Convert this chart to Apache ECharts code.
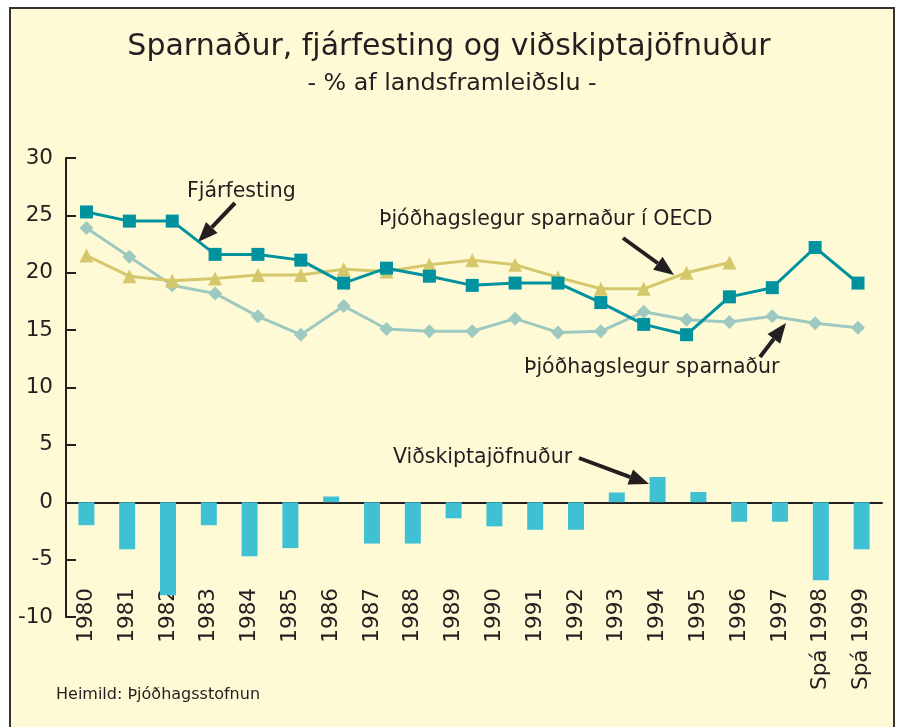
<!DOCTYPE html>
<html>
<head>
<meta charset="utf-8">
<script src="https://cdn.jsdelivr.net/npm/echarts@6/dist/echarts.min.js"></script>
<style>
  html, body { margin: 0; padding: 0; background: #fff; }
  #chart { width: 898px; height: 727px; }
</style>
</head>
<body>
<div id="chart"></div>
<script>
// categories under the bars (20) and the steps of the line series (19)
var years = ['1980', '1981', '1982', '1983', '1984', '1985', '1986', '1987', '1988', '1989',
  '1990', '1991', '1992', '1993', '1994', '1995', '1996', '1997', 'Spá 1998', 'Spá 1999'];
var lineSteps = ['1980', '1981', '1982', '1983', '1984', '1985', '1986', '1987', '1988', '1989',
  '1990', '1991', '1992', '1993', '1994', '1995', '1996', '1997', '1998'];

// % af landsframleiðslu
var vidskiptajofnudur = [-2.0, -4.1, -8.1, -2.0, -4.7, -4.0, 0.5, -3.6, -3.6, -1.4,
  -2.1, -2.4, -2.4, 0.85, 2.2, 0.9, -1.7, -1.7, -6.8, -4.1];
var fjarfesting = [25.3, 24.5, 24.5, 21.6, 21.6, 21.1, 19.1, 20.4, 19.7, 18.9,
  19.1, 19.1, 17.4, 15.5, 14.6, 17.9, 18.7, 22.2, 19.1];
var sparnadur = [23.9, 21.4, 18.9, 18.2, 16.2, 14.6, 17.1, 15.1, 14.9, 14.9,
  16.0, 14.8, 14.9, 16.6, 15.9, 15.7, 16.2, 15.6, 15.2];
var sparnadurOECD = [21.5, 19.7, 19.3, 19.5, 19.8, 19.8, 20.3, 20.1, 20.7, 21.1,
  20.7, 19.6, 18.6, 18.6, 20.0, 20.9];

var yMin = -10, yMax = 30, yStep = 5;

var FONT = "'DejaVu Sans', sans-serif";
var INK = '#231f20';

// small helper: an arrow made of a line and a filled head
function arrow(x1, y1, x2, y2) {
  var dx = x2 - x1, dy = y2 - y1, len = Math.sqrt(dx * dx + dy * dy);
  var ux = dx / len, uy = dy / len, hl = 20, hw = 8;
  var bx = x2 - ux * hl, by = y2 - uy * hl;
  return {
    type: 'group',
    children: [
      { type: 'line', shape: { x1: x1, y1: y1, x2: bx, y2: by }, style: { stroke: INK, lineWidth: 4 } },
      { type: 'polygon', shape: { points: [[x2, y2], [bx - uy * hw, by + ux * hw], [bx + uy * hw, by - ux * hw]] },
        style: { fill: INK } }
    ]
  };
}

function label(text, x, y, size, align) {
  return { type: 'text', x: x, y: y,
    style: { text: text, fill: INK, font: size + 'px ' + FONT, textAlign: align || 'left', textVerticalAlign: 'middle' } };
}

var myChart = echarts.init(document.getElementById('chart'));
var option = {
  animation: false,
  backgroundColor: '#fff',
  textStyle: { fontFamily: FONT, color: INK },
  graphic: [
    { type: 'rect', z: -10, shape: { x: 10, y: 8, width: 884, height: 740 },
      style: { fill: '#fffad6', stroke: '#333', lineWidth: 2 } },
    label('Sparnaður, fjárfesting og viðskiptajöfnuður', 449, 47, 30, 'center'),
    label('- % af landsframleiðslu -', 452, 84, 23.8, 'center'),
    label('Fjárfesting', 187, 192, 20.5),
    label('Þjóðhagslegur sparnaður í OECD', 379, 220, 20.5),
    label('Þjóðhagslegur sparnaður', 524, 368, 20.5),
    label('Viðskiptajöfnuður', 393, 458, 20.5),
    label('Heimild: Þjóðhagsstofnun', 56, 695, 16),
    arrow(235, 203, 198, 242),
    arrow(623, 238, 674, 275),
    arrow(760, 357, 786, 323),
    arrow(579, 458, 649, 484)
  ],
  grid: [
    { left: 66, right: 16, top: 158, bottom: 110 },
    { left: 86.5, right: 40, top: 158, bottom: 110 }
  ],
  xAxis: [
    {
      type: 'category', gridIndex: 0, data: years,
      axisLine: { onZero: true, lineStyle: { color: INK, width: 2 } },
      axisTick: { inside: true, length: 10, lineStyle: { color: INK, width: 2 } },
      axisLabel: { show: false }
    },
    {
      type: 'category', gridIndex: 0, data: years, position: 'bottom', offset: -30,
      axisLine: { show: false, onZero: false },
      axisTick: { show: false },
      axisLabel: { rotate: 90, margin: 1, fontSize: 21.5, color: INK, interval: 0 }
    },
    {
      type: 'category', gridIndex: 1, data: lineSteps, boundaryGap: false, show: false
    }
  ],
  yAxis: [
    {
      type: 'value', gridIndex: 0, min: yMin, max: yMax, interval: yStep,
      splitLine: { show: false },
      axisLine: { show: true, lineStyle: { color: INK, width: 2 } },
      axisTick: { show: true, inside: true, length: 10, lineStyle: { color: INK, width: 2 } },
      axisLabel: { fontSize: 21.5, color: INK, margin: 13 }
    },
    { type: 'value', gridIndex: 1, min: yMin, max: yMax, interval: yStep, show: false }
  ],
  series: [
    {
      name: 'Viðskiptajöfnuður', type: 'bar', xAxisIndex: 0, yAxisIndex: 0,
      data: vidskiptajofnudur, barWidth: 16, z: 5,
      itemStyle: { color: '#3fc1d3' }
    },
    {
      name: 'Þjóðhagslegur sparnaður', type: 'line', xAxisIndex: 2, yAxisIndex: 1,
      data: sparnadur, symbol: 'diamond', symbolSize: 14,
      lineStyle: { color: '#9dc9c1', width: 3 }, itemStyle: { color: '#9dc9c1' }
    },
    {
      name: 'Þjóðhagslegur sparnaður í OECD', type: 'line', xAxisIndex: 2, yAxisIndex: 1,
      data: sparnadurOECD, symbol: 'triangle', symbolSize: 14,
      lineStyle: { color: '#d5c76b', width: 3 }, itemStyle: { color: '#d5c76b' }
    },
    {
      name: 'Fjárfesting', type: 'line', xAxisIndex: 2, yAxisIndex: 1,
      data: fjarfesting, symbol: 'rect', symbolSize: 13,
      lineStyle: { color: '#00929f', width: 3 }, itemStyle: { color: '#00929f' }
    }
  ]
};
myChart.setOption(option);
</script>
</body>
</html>
